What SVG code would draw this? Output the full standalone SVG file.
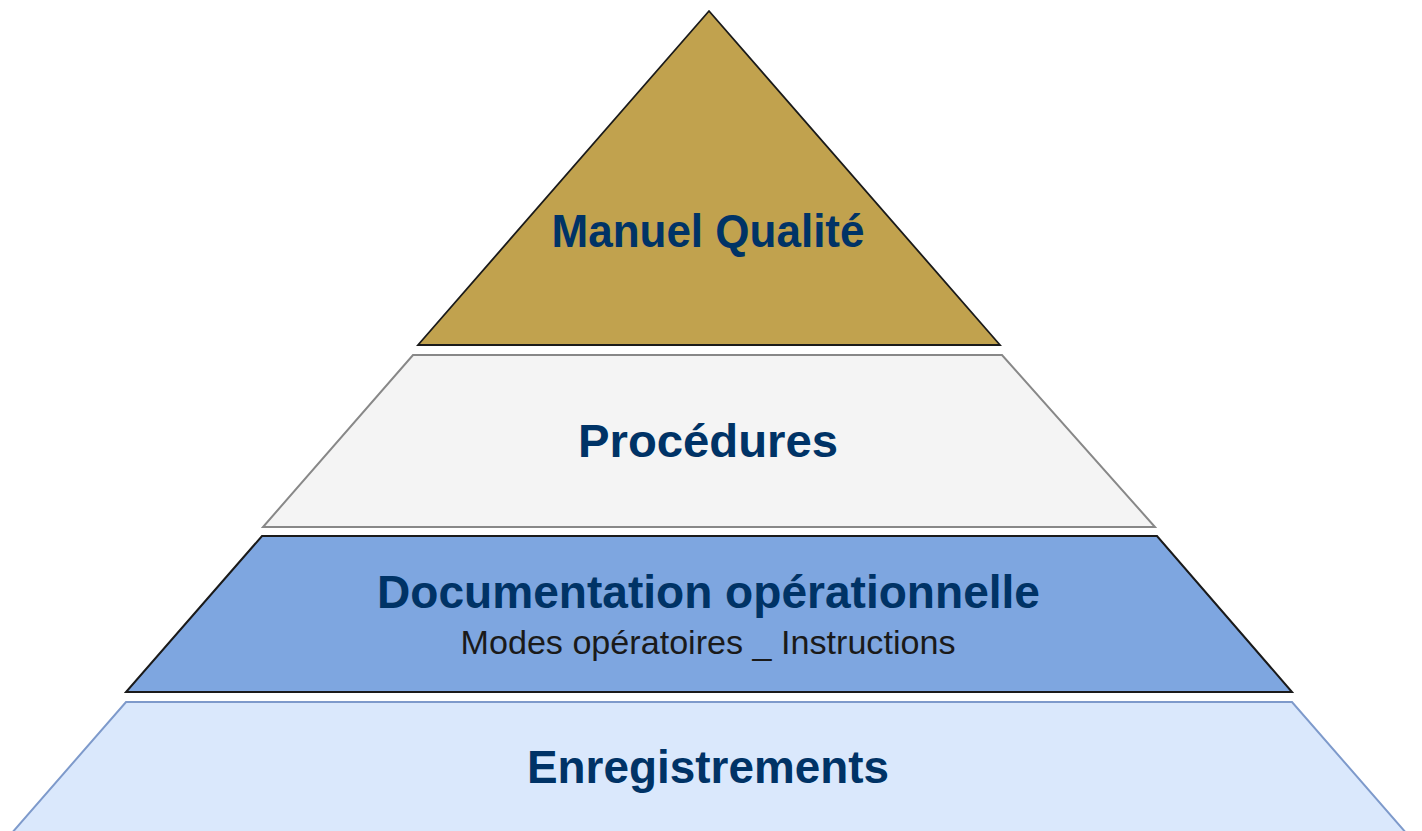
<svg xmlns="http://www.w3.org/2000/svg" width="1422" height="831" viewBox="0 0 1422 831">
<style>
.title{font-family:"Liberation Sans",Arial,sans-serif;font-weight:bold;font-size:46px;fill:#003366;text-anchor:middle}
.sub{font-family:"Liberation Sans",Arial,sans-serif;font-size:34px;fill:#1a1a1a;text-anchor:middle}
</style>
<rect width="1422" height="831" fill="#ffffff"/>
<g id="manuel-qualite">
<polygon points="709,11 1000,345 418,345" fill="#C1A24E" stroke="#1a1a1a" stroke-width="1.8" stroke-linejoin="miter"/>
<text class="title" x="708" y="247" textLength="313" lengthAdjust="spacingAndGlyphs">Manuel Qualité</text>
</g>
<g id="procedures">
<polygon points="413,355 1002,355 1155,527 263,527" fill="#F4F4F4" stroke="#888888" stroke-width="2"/>
<text class="title" x="708" y="457" textLength="260" lengthAdjust="spacingAndGlyphs">Procédures</text>
</g>
<g id="documentation">
<polygon points="262,536 1157,536 1292,692 126,692" fill="#7EA6E0" stroke="#1a1a1a" stroke-width="2"/>
<text class="title" x="708.5" y="608" textLength="663" lengthAdjust="spacingAndGlyphs">Documentation opérationnelle</text>
<text class="sub" x="708" y="654" textLength="495" lengthAdjust="spacingAndGlyphs">Modes opératoires _ Instructions</text>
</g>
<g id="enregistrements">
<polygon points="126,702 1292,702 1407,834 11,834" fill="#DAE8FC" stroke="#7E9ACB" stroke-width="2"/>
<text class="title" x="708" y="783" textLength="362" lengthAdjust="spacingAndGlyphs">Enregistrements</text>
</g>
<g id="connectors"></g>
</svg>
